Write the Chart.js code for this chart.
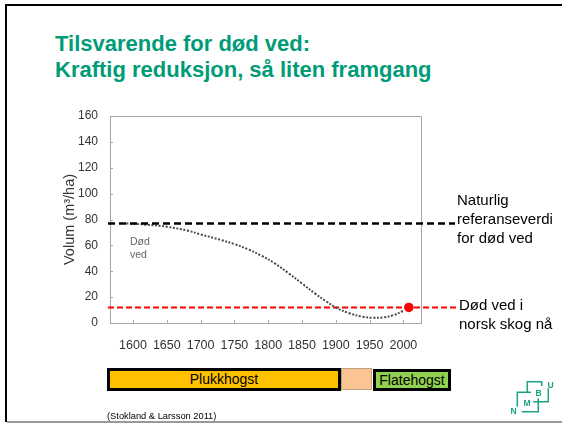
<!DOCTYPE html>
<html lang="no">
<head>
    <meta charset="UTF-8">
    <title>Tilsvarende for død ved</title>
    <script src="https://cdn.jsdelivr.net/npm/chart.js"></script>
    <style>
        html, body { margin: 0; padding: 0; background: #fff; }
        body { width: 562px; height: 424px; position: relative; overflow: hidden;
               font-family: "Liberation Sans", Arial, sans-serif; }
        .frame-top { position: absolute; left: 5px; top: 4px; width: 557px; height: 2px; background: #000; }
        .frame-left { position: absolute; left: 5px; top: 4px; width: 2px; height: 418px; background: #000; }
        .frame-bottom { position: absolute; left: 7px; top: 421px; width: 555px; height: 1.5px; background: #999; }
        h1 { position: absolute; left: 55px; top: 31px; margin: 0; font-size: 22px; line-height: 26px;
             font-weight: bold; color: #009b77; }
        #chart { position: absolute; left: 0; top: 0; }
        .box { position: absolute; box-sizing: border-box; font-size: 14px; text-align: center; color: #000; }
        .plukk { left: 107px; top: 368px; width: 234px; height: 23px; background: #ffc000; border: 3px solid #000; line-height: 17px; }
        .mellom { left: 341px; top: 368px; width: 31px; height: 22px; background: #fbc593; border: 1px solid #bfa080; }
        .flate { left: 373px; top: 369px; width: 78px; height: 22px; background: #92d050; border: 3px solid #000; line-height: 16px; }
        .source { position: absolute; left: 107px; top: 411px; font-size: 9.3px; color: #000; }
        .logo { position: absolute; left: 500px; top: 370px; }
    </style>
</head>
<body>
    <div class="frame-top"></div>
    <div class="frame-left"></div>
    <div class="frame-bottom"></div>

    <h1>Tilsvarende for død ved:<br>Kraftig reduksjon, så liten framgang</h1>

    <canvas id="chart" width="562" height="424"></canvas>

    <!-- hogstperioder under aksen -->
    <div class="box plukk">Plukkhogst</div>
    <div class="box mellom"></div>
    <div class="box flate">Flatehogst</div>

    <div class="source">(Stokland &amp; Larsson 2011)</div>

    <svg class="logo" width="62" height="50" viewBox="500 370 62 50">
        <g stroke="#1aa383" stroke-width="1.5" fill="none">
            <polyline points="527.3,392 527.3,381.7 541.7,381.7 541.7,386"/>
            <polyline points="517.3,406.7 517.3,392.3 531,392.3"/>
            <polyline points="548.3,388.3 548.3,401.7 533.3,401.7"/>
            <polyline points="538.3,398.3 538.3,411.7 521.7,411.7"/>
        </g>
        <g fill="#1aa383" font-family="Liberation Sans, Arial, sans-serif" font-weight="bold" font-size="8.5">
            <text x="547.5" y="387.5">U</text>
            <text x="535.5" y="396">B</text>
            <text x="523.5" y="406">M</text>
            <text x="510.5" y="413.5">N</text>
        </g>
    </svg>

    <script>
        // verdier lest av figuren (Stokland & Larsson 2011)
        var years = [1590, 1620, 1650, 1680, 1700, 1730, 1750, 1770, 1790, 1810, 1830, 1850, 1870, 1885, 1900, 1920, 1940, 1955, 1970, 1985, 2000];
        var deadWood = [77, 76, 74.4, 71.5, 68.5, 64.2, 61, 57, 52, 46, 38.5, 30.5, 22.5, 17, 12, 7.5, 4.8, 4, 4.4, 6, 9.5];

        var xTicks = [1600, 1650, 1700, 1750, 1800, 1850, 1900, 1950, 2000];
        var yTicks = [0, 20, 40, 60, 80, 100, 120, 140, 160];

        var referenceLevel = 77;     // naturlig referanseverdi
        var currentLevel = 12;       // død ved i norsk skog nå
        var currentYear = 2008;

        var axisGray = '#a6a6a6';
        var labelColor = '#333';
        var fontFamily = '"Liberation Sans", Arial, sans-serif';

        // ramme rundt plottet, små innvendige tikker, stiplede linjer og tekster
        var annotations = {
            id: 'annotations',
            beforeDatasetsDraw: function (chart) {
                var ctx = chart.ctx;
                var y = chart.scales.y.getPixelForValue(currentLevel);
                ctx.save();
                ctx.strokeStyle = '#ff0000';
                ctx.lineWidth = 2;
                ctx.setLineDash([6, 3]);
                ctx.beginPath();
                ctx.moveTo(chart.chartArea.left - 2, y);
                ctx.lineTo(458, y);
                ctx.stroke();
                ctx.restore();
            },
            afterDatasetsDraw: function (chart) {
                var ctx = chart.ctx;
                var area = chart.chartArea;
                var xs = chart.scales.x, ys = chart.scales.y;

                ctx.save();
                // topp og høyre kant
                ctx.strokeStyle = axisGray;
                ctx.lineWidth = 1;
                ctx.beginPath();
                ctx.moveTo(area.left, area.top + 0.5);
                ctx.lineTo(area.right + 0.5, area.top + 0.5);
                ctx.lineTo(area.right + 0.5, area.bottom);
                ctx.stroke();

                // innvendige tikker
                ctx.beginPath();
                xTicks.forEach(function (v) {
                    var px = Math.round(xs.getPixelForValue(v)) + 0.5;
                    ctx.moveTo(px, area.bottom);
                    ctx.lineTo(px, area.bottom - 3);
                });
                yTicks.forEach(function (v) {
                    var py = Math.round(ys.getPixelForValue(v)) + 0.5;
                    ctx.moveTo(area.left, py);
                    ctx.lineTo(area.left + 3, py);
                });
                ctx.stroke();

                // naturlig referanseverdi
                var yRef = ys.getPixelForValue(referenceLevel);
                ctx.strokeStyle = '#000';
                ctx.lineWidth = 2.5;
                ctx.setLineDash([7, 4]);
                ctx.beginPath();
                ctx.moveTo(area.left - 2, yRef);
                ctx.lineTo(455, yRef);
                ctx.stroke();
                ctx.setLineDash([]);

                // tekst inne i plottet
                ctx.fillStyle = '#666';
                ctx.font = '10.5px ' + fontFamily;
                ctx.textBaseline = 'alphabetic';
                ctx.fillText('Død', 130, 245);
                ctx.fillText('ved', 130, 258);

                // tekst til høyre
                ctx.fillStyle = '#000';
                ctx.font = '15px ' + fontFamily;
                ctx.fillText('Naturlig', 457, 205);
                ctx.fillText('referanseverdi', 457, 224);
                ctx.fillText('for død ved', 457, 243);
                ctx.fillText('Død ved i', 459, 310);
                ctx.fillText('norsk skog nå', 459, 329);
                ctx.restore();
            }
        };

        var ctx = document.getElementById('chart').getContext('2d');
        new Chart(ctx, {
            type: 'line',
            data: {
                datasets: [{
                    label: 'Død ved',
                    data: years.map(function (yr, i) { return { x: yr, y: deadWood[i] }; }),
                    borderColor: '#4a4a4a',
                    borderWidth: 2,
                    borderDash: [2, 1.6],
                    pointRadius: 0,
                    tension: 0.4,
                    fill: false
                }, {
                    label: 'Nå',
                    data: [{ x: currentYear, y: currentLevel }],
                    showLine: false,
                    pointRadius: 4.8,
                    pointBackgroundColor: '#ff0000',
                    pointBorderColor: '#ff0000',
                    pointBorderWidth: 0
                }]
            },
            options: {
                responsive: false,
                animation: false,
                layout: { padding: { left: 60, top: 116, right: 141, bottom: 71 } },
                plugins: {
                    legend: { display: false },
                    tooltip: { enabled: false }
                },
                scales: {
                    x: {
                        type: 'linear',
                        min: 1566,
                        max: 2026,
                        afterFit: function (s) { s.height = 30; },
                        afterBuildTicks: function (s) {
                            s.ticks = xTicks.map(function (v) { return { value: v }; });
                        },
                        grid: { display: false },
                        border: { display: true, color: axisGray, width: 1 },
                        ticks: {
                            autoSkip: false,
                            maxRotation: 0,
                            padding: 7,
                            color: labelColor,
                            font: { family: fontFamily, size: 12.5 },
                            callback: function (v) { return String(v); }
                        }
                    },
                    y: {
                        min: 0,
                        max: 160,
                        afterFit: function (s) { s.width = 50; },
                        afterBuildTicks: function (s) {
                            s.ticks = yTicks.map(function (v) { return { value: v }; });
                        },
                        grid: { display: false },
                        border: { display: true, color: axisGray, width: 1 },
                        ticks: {
                            padding: 4,
                            color: labelColor,
                            font: { family: fontFamily, size: 12 }
                        },
                        title: {
                            display: true,
                            text: 'Volum (m³/ha)',
                            color: labelColor,
                            padding: { top: 1, bottom: 0 },
                            font: { family: fontFamily, size: 14.5 }
                        }
                    }
                }
            },
            plugins: [annotations]
        });
    </script>
</body>
</html>
